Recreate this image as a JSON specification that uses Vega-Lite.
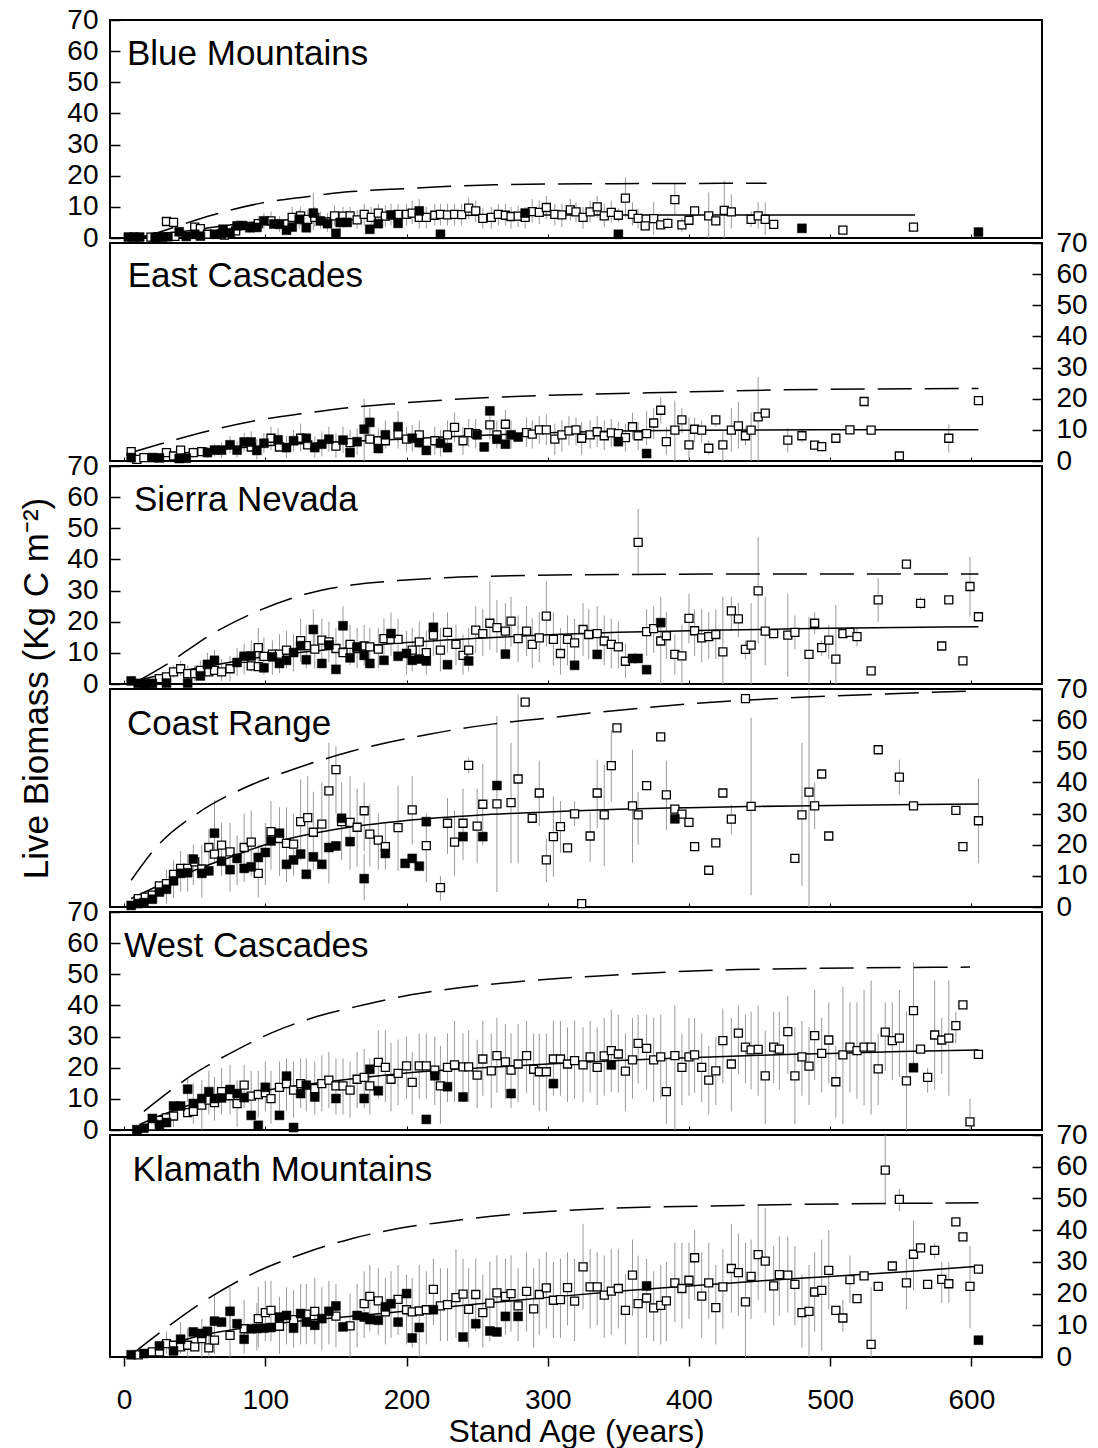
{
"$schema":"https://vega.github.io/schema/vega-lite/v6.json",
"padding":{"left":18,"top":5,"right":5,"bottom":0},
"config":{"font":"Liberation Sans","view":{"stroke":"black","strokeWidth":2},"axis":{"labelColor":"black","titleColor":"black","tickColor":"black","titleFontWeight":"normal","grid":false,"domain":false,"labelFlush":false,"labelOverlap":false}},
"spacing":5,
"bounds":"flush",
"datasets":{
"lab":[{"p":1,"a":2,"b":55.5,"t":"Blue Mountains"},{"p":2,"a":2.5,"b":55.8,"t":"East Cascades"},{"p":3,"a":7,"b":55.5,"t":"Sierra Nevada"},{"p":4,"a":2,"b":55.2,"t":"Coast Range"},{"p":5,"a":0,"b":55.5,"t":"West Cascades"},{"p":6,"a":6,"b":55.6,"t":"Klamath Mountains"}],
"ln":[
{"p":1,"k":"f","a":5,"b":0},{"p":1,"k":"f","a":20,"b":1},{"p":1,"k":"f","a":50,"b":2.6},{"p":1,"k":"f","a":75,"b":4.2},{"p":1,"k":"f","a":100,"b":5.4},{"p":1,"k":"f","a":150,"b":6.6},{"p":1,"k":"f","a":200,"b":7.1},{"p":1,"k":"f","a":250,"b":7.3},{"p":1,"k":"f","a":300,"b":7.4},{"p":1,"k":"f","a":400,"b":7.4},{"p":1,"k":"f","a":560,"b":7.4},
{"p":1,"k":"d","a":12,"b":0},{"p":1,"k":"d","a":29,"b":2.5},{"p":1,"k":"d","a":62,"b":7.3},{"p":1,"k":"d","a":97,"b":11.2},{"p":1,"k":"d","a":128,"b":13.2},{"p":1,"k":"d","a":161,"b":14.9},{"p":1,"k":"d","a":201,"b":15.9},{"p":1,"k":"d","a":227,"b":16.5},{"p":1,"k":"d","a":262,"b":17.1},{"p":1,"k":"d","a":326,"b":17.4},{"p":1,"k":"d","a":400,"b":17.5},{"p":1,"k":"d","a":455,"b":17.6},
{"p":2,"k":"f","a":5,"b":0.8},{"p":2,"k":"f","a":25,"b":1.8},{"p":2,"k":"f","a":50,"b":3},{"p":2,"k":"f","a":100,"b":4.9},{"p":2,"k":"f","a":150,"b":6.1},{"p":2,"k":"f","a":200,"b":7.1},{"p":2,"k":"f","a":250,"b":8.2},{"p":2,"k":"f","a":300,"b":9.1},{"p":2,"k":"f","a":350,"b":9.6},{"p":2,"k":"f","a":400,"b":9.9},{"p":2,"k":"f","a":500,"b":10},{"p":2,"k":"f","a":605,"b":10},
{"p":2,"k":"d","a":5,"b":2.7},{"p":2,"k":"d","a":29,"b":5.9},{"p":2,"k":"d","a":62,"b":9.9},{"p":2,"k":"d","a":95,"b":13.1},{"p":2,"k":"d","a":128,"b":15.3},{"p":2,"k":"d","a":161,"b":17.2},{"p":2,"k":"d","a":194,"b":18.5},{"p":2,"k":"d","a":227,"b":19.6},{"p":2,"k":"d","a":260,"b":20.4},{"p":2,"k":"d","a":326,"b":21.4},{"p":2,"k":"d","a":400,"b":22.2},{"p":2,"k":"d","a":459,"b":22.8},{"p":2,"k":"d","a":605,"b":23.3},
{"p":3,"k":"f","a":10,"b":1.2},{"p":3,"k":"f","a":25,"b":2.8},{"p":3,"k":"f","a":50,"b":5},{"p":3,"k":"f","a":75,"b":7},{"p":3,"k":"f","a":100,"b":8.8},{"p":3,"k":"f","a":150,"b":11.3},{"p":3,"k":"f","a":200,"b":13.3},{"p":3,"k":"f","a":250,"b":14.7},{"p":3,"k":"f","a":300,"b":15.8},{"p":3,"k":"f","a":350,"b":16.6},{"p":3,"k":"f","a":400,"b":17.1},{"p":3,"k":"f","a":450,"b":17.5},{"p":3,"k":"f","a":500,"b":17.9},{"p":3,"k":"f","a":605,"b":18.4},
{"p":3,"k":"d","a":10,"b":1},{"p":3,"k":"d","a":29,"b":6},{"p":3,"k":"d","a":62,"b":16},{"p":3,"k":"d","a":95,"b":23.5},{"p":3,"k":"d","a":128,"b":28.8},{"p":3,"k":"d","a":161,"b":31.8},{"p":3,"k":"d","a":194,"b":33.2},{"p":3,"k":"d","a":227,"b":34.1},{"p":3,"k":"d","a":260,"b":34.6},{"p":3,"k":"d","a":326,"b":35.1},{"p":3,"k":"d","a":450,"b":35.3},{"p":3,"k":"d","a":605,"b":35.3},
{"p":4,"k":"f","a":5,"b":2.7},{"p":4,"k":"f","a":25,"b":7},{"p":4,"k":"f","a":50,"b":11.8},{"p":4,"k":"f","a":75,"b":16},{"p":4,"k":"f","a":100,"b":20},{"p":4,"k":"f","a":125,"b":22.8},{"p":4,"k":"f","a":150,"b":25},{"p":4,"k":"f","a":200,"b":27.8},{"p":4,"k":"f","a":250,"b":29.5},{"p":4,"k":"f","a":300,"b":30.5},{"p":4,"k":"f","a":350,"b":31.4},{"p":4,"k":"f","a":400,"b":31.9},{"p":4,"k":"f","a":450,"b":32.3},{"p":4,"k":"f","a":500,"b":32.6},{"p":4,"k":"f","a":605,"b":33.1},
{"p":4,"k":"d","a":5,"b":8.6},{"p":4,"k":"d","a":22,"b":18.8},{"p":4,"k":"d","a":52,"b":30.1},{"p":4,"k":"d","a":85,"b":38.2},{"p":4,"k":"d","a":121,"b":44.4},{"p":4,"k":"d","a":161,"b":50},{"p":4,"k":"d","a":215,"b":55.4},{"p":4,"k":"d","a":262,"b":58.8},{"p":4,"k":"d","a":294,"b":60.4},{"p":4,"k":"d","a":333,"b":62.4},{"p":4,"k":"d","a":435,"b":66.3},{"p":4,"k":"d","a":483,"b":67.4},{"p":4,"k":"d","a":605,"b":69.4},
{"p":5,"k":"f","a":12,"b":2},{"p":5,"k":"f","a":25,"b":4.5},{"p":5,"k":"f","a":50,"b":8.5},{"p":5,"k":"f","a":75,"b":10.8},{"p":5,"k":"f","a":100,"b":12.7},{"p":5,"k":"f","a":150,"b":15.8},{"p":5,"k":"f","a":200,"b":18.3},{"p":5,"k":"f","a":250,"b":19.9},{"p":5,"k":"f","a":300,"b":21.2},{"p":5,"k":"f","a":350,"b":22.3},{"p":5,"k":"f","a":400,"b":23.2},{"p":5,"k":"f","a":450,"b":24},{"p":5,"k":"f","a":500,"b":24.6},{"p":5,"k":"f","a":550,"b":25.2},{"p":5,"k":"f","a":605,"b":25.7},
{"p":5,"k":"d","a":14,"b":6},{"p":5,"k":"d","a":38,"b":14.4},{"p":5,"k":"d","a":48,"b":17.6},{"p":5,"k":"d","a":73,"b":24.1},{"p":5,"k":"d","a":104,"b":31.1},{"p":5,"k":"d","a":137,"b":36.5},{"p":5,"k":"d","a":170,"b":40.2},{"p":5,"k":"d","a":203,"b":43.4},{"p":5,"k":"d","a":236,"b":45.6},{"p":5,"k":"d","a":269,"b":47.2},{"p":5,"k":"d","a":300,"b":48.4},{"p":5,"k":"d","a":333,"b":49.4},{"p":5,"k":"d","a":435,"b":51.5},{"p":5,"k":"d","a":599,"b":52.3},
{"p":6,"k":"f","a":5,"b":0.7},{"p":6,"k":"f","a":25,"b":3},{"p":6,"k":"f","a":50,"b":6.3},{"p":6,"k":"f","a":100,"b":10.1},{"p":6,"k":"f","a":150,"b":12.4},{"p":6,"k":"f","a":200,"b":14.5},{"p":6,"k":"f","a":250,"b":16.7},{"p":6,"k":"f","a":300,"b":18.8},{"p":6,"k":"f","a":350,"b":20.7},{"p":6,"k":"f","a":400,"b":22.4},{"p":6,"k":"f","a":450,"b":24},{"p":6,"k":"f","a":500,"b":25.4},{"p":6,"k":"f","a":550,"b":26.8},{"p":6,"k":"f","a":605,"b":28.6},
{"p":6,"k":"d","a":6,"b":1},{"p":6,"k":"d","a":29,"b":8.9},{"p":6,"k":"d","a":62,"b":19.1},{"p":6,"k":"d","a":95,"b":27.1},{"p":6,"k":"d","a":128,"b":32.8},{"p":6,"k":"d","a":161,"b":37.3},{"p":6,"k":"d","a":194,"b":40.5},{"p":6,"k":"d","a":227,"b":42.6},{"p":6,"k":"d","a":260,"b":44.4},{"p":6,"k":"d","a":326,"b":46.5},{"p":6,"k":"d","a":435,"b":47.8},{"p":6,"k":"d","a":605,"b":48.6}
],
"pts":[
{"p":1,"a":3,"b":0.3,"f":1},{"p":1,"a":7,"b":0.3,"f":1},{"p":1,"a":11,"b":0.3,"f":1},{"p":1,"a":19,"b":0.3,"f":0},{"p":1,"a":22,"b":0.2,"f":1},{"p":1,"a":24,"b":0.4,"f":0},{"p":1,"a":27,"b":0.3,"f":1},{"p":1,"a":31,"b":0.4,"f":1},{"p":1,"a":30,"b":5.3,"f":0},{"p":1,"a":35,"b":5.0,"f":0},{"p":1,"a":36,"b":0.5,"f":0},{"p":1,"a":39,"b":2.0,"f":1},{"p":1,"a":44,"b":0.5,"f":1},{"p":1,"a":50,"b":3.5,"f":0,"l":2,"h":5},{"p":1,"a":54,"b":3.0,"f":0,"l":1.5,"h":4.5},{"p":1,"a":50,"b":1.2,"f":1},{"p":1,"a":54,"b":0.6,"f":1},{"p":1,"a":59,"b":1.2,"f":0},{"p":1,"a":64,"b":1.2,"f":1},{"p":1,"a":69,"b":1.3,"f":1},{"p":1,"a":70,"b":2.8,"f":1,"l":1,"h":4.5},{"p":1,"a":71,"b":0.9,"f":0},{"p":1,"a":75,"b":1.7,"f":1},{"p":1,"a":79,"b":2.3,"f":0,"l":0.5,"h":4.5},{"p":1,"a":80,"b":3.9,"f":1,"l":2,"h":6},{"p":1,"a":84,"b":4.0,"f":1},{"p":1,"a":89,"b":3.3,"f":1,"l":1.5,"h":5.5},{"p":1,"a":94,"b":3.4,"f":1},{"p":1,"a":95,"b":4.6,"f":0,"l":2.5,"h":7},{"p":1,"a":99,"b":5.5,"f":1,"l":3,"h":8},{"p":1,"a":104,"b":5.5,"f":0,"l":3,"h":8.5},{"p":1,"a":106,"b":4.5,"f":1},{"p":1,"a":110,"b":4.4,"f":1,"l":2,"h":7},{"p":1,"a":115,"b":2.5,"f":1},{"p":1,"a":119,"b":3.5,"f":1},{"p":1,"a":119,"b":6.6,"f":0,"l":3.5,"h":10},{"p":1,"a":124,"b":6.0,"f":1,"l":3,"h":9},{"p":1,"a":125,"b":7.1,"f":0,"l":4,"h":10},{"p":1,"a":129,"b":3.3,"f":1},{"p":1,"a":130,"b":6.0,"f":0,"l":3,"h":9},{"p":1,"a":134,"b":8.0,"f":1,"l":2.5,"h":14.5},{"p":1,"a":135,"b":6.6,"f":0,"l":3.5,"h":10},{"p":1,"a":139,"b":5.5,"f":1,"l":3,"h":8.5},{"p":1,"a":144,"b":4.6,"f":1,"l":2,"h":8},{"p":1,"a":149,"b":7.1,"f":0,"l":4,"h":10.5},{"p":1,"a":150,"b":1.5,"f":1},{"p":1,"a":153,"b":5.0,"f":1,"l":2.5,"h":8},{"p":1,"a":158,"b":5.0,"f":1},{"p":1,"a":155,"b":7.0,"f":0,"l":4,"h":10},{"p":1,"a":160,"b":7.1,"f":0,"l":3.5,"h":10},{"p":1,"a":165,"b":5.8,"f":0,"l":3,"h":9},{"p":1,"a":170,"b":7.6,"f":0,"l":4,"h":11},{"p":1,"a":174,"b":2.8,"f":1},{"p":1,"a":175,"b":6.6,"f":0,"l":3,"h":10},{"p":1,"a":180,"b":4.6,"f":1},{"p":1,"a":180,"b":8.0,"f":0,"l":4.5,"h":11},{"p":1,"a":185,"b":7.0,"f":0,"l":3.5,"h":10.5},{"p":1,"a":189,"b":7.4,"f":1,"l":4,"h":11},{"p":1,"a":194,"b":7.6,"f":0,"l":4,"h":11},{"p":1,"a":194,"b":4.7,"f":1},{"p":1,"a":200,"b":7.6,"f":0,"l":4,"h":11},{"p":1,"a":204,"b":8.0,"f":0,"l":4.5,"h":12},{"p":1,"a":209,"b":8.7,"f":1,"l":5,"h":12.5},{"p":1,"a":209,"b":6.6,"f":0,"l":3,"h":10},{"p":1,"a":214,"b":6.6,"f":0,"l":3,"h":10},{"p":1,"a":220,"b":7.3,"f":0,"l":4,"h":11},{"p":1,"a":224,"b":1.2,"f":1},{"p":1,"a":224,"b":7.6,"f":0,"l":4,"h":11},{"p":1,"a":229,"b":7.4,"f":0,"l":4,"h":11},{"p":1,"a":234,"b":7.6,"f":0,"l":4,"h":11},{"p":1,"a":239,"b":7.5,"f":0,"l":4,"h":11},{"p":1,"a":244,"b":9.6,"f":0,"l":6,"h":13},{"p":1,"a":249,"b":8.7,"f":0,"l":5,"h":12},{"p":1,"a":254,"b":6.3,"f":0,"l":3,"h":9.5},{"p":1,"a":260,"b":6.6,"f":0,"l":3,"h":10},{"p":1,"a":265,"b":7.6,"f":0,"l":4,"h":11},{"p":1,"a":270,"b":7.3,"f":0,"l":4,"h":11},{"p":1,"a":274,"b":6.9,"f":0,"l":3,"h":10},{"p":1,"a":279,"b":7.0,"f":0,"l":3.5,"h":10.5},{"p":1,"a":284,"b":8.0,"f":1},{"p":1,"a":284,"b":6.6,"f":0,"l":3,"h":10},{"p":1,"a":289,"b":8.5,"f":0,"l":5,"h":12.5},{"p":1,"a":294,"b":8.2,"f":0,"l":4.5,"h":12},{"p":1,"a":299,"b":9.8,"f":0,"l":6,"h":13.5},{"p":1,"a":305,"b":7.6,"f":0,"l":4,"h":11},{"p":1,"a":310,"b":7.4,"f":0,"l":3.5,"h":11},{"p":1,"a":316,"b":9.0,"f":0,"l":5.5,"h":12.5},{"p":1,"a":320,"b":8.4,"f":0,"l":5,"h":11.5},{"p":1,"a":325,"b":6.6,"f":0,"l":3,"h":10},{"p":1,"a":330,"b":8.4,"f":0,"l":5,"h":12},{"p":1,"a":335,"b":10.0,"f":0,"l":6.5,"h":13.5},{"p":1,"a":340,"b":7.1,"f":0,"l":3.5,"h":11},{"p":1,"a":345,"b":8.2,"f":0,"l":5,"h":12},{"p":1,"a":350,"b":7.3,"f":0,"l":5,"h":9.5},{"p":1,"a":350,"b":1.2,"f":1},{"p":1,"a":355,"b":12.8,"f":0,"l":6.6,"h":19.5},{"p":1,"a":360,"b":7.6,"f":0,"l":4,"h":11.5},{"p":1,"a":364,"b":6.3,"f":0,"l":3,"h":9.5},{"p":1,"a":369,"b":3.9,"f":0},{"p":1,"a":375,"b":6.2,"f":0,"l":1,"h":11.5},{"p":1,"a":380,"b":4.2,"f":0},{"p":1,"a":385,"b":4.7,"f":0,"l":3,"h":6.5},{"p":1,"a":390,"b":12.3,"f":0,"l":7.6,"h":17.3},{"p":1,"a":395,"b":4.2,"f":0,"l":2,"h":6.5},{"p":1,"a":400,"b":5.7,"f":0},{"p":1,"a":404,"b":8.7,"f":0},{"p":1,"a":414,"b":7.1,"f":0,"l":0,"h":14.6},{"p":1,"a":419,"b":5.5,"f":0,"l":4,"h":7},{"p":1,"a":425,"b":8.9,"f":0,"l":0,"h":18.4},{"p":1,"a":430,"b":8.4,"f":0,"l":3,"h":14},{"p":1,"a":444,"b":6.0,"f":0,"l":3.5,"h":8.5},{"p":1,"a":449,"b":7.1,"f":0,"l":3,"h":11.5},{"p":1,"a":454,"b":6.0,"f":0,"l":1,"h":11.5},{"p":1,"a":460,"b":4.4,"f":0},{"p":1,"a":480,"b":3.1,"f":1},{"p":1,"a":509,"b":2.5,"f":0},{"p":1,"a":559,"b":3.5,"f":0},{"p":1,"a":605,"b":1.9,"f":1},
{"p":2,"a":5,"b":3.0,"f":0},{"p":2,"a":5,"b":1.1,"f":1},{"p":2,"a":9,"b":0.5,"f":0},{"p":2,"a":14,"b":1.1,"f":0},{"p":2,"a":20,"b":1.1,"f":1},{"p":2,"a":25,"b":1.0,"f":1},{"p":2,"a":30,"b":2.7,"f":0},{"p":2,"a":35,"b":1.6,"f":0},{"p":2,"a":40,"b":3.5,"f":0},{"p":2,"a":39,"b":0.8,"f":1},{"p":2,"a":44,"b":0.9,"f":1},{"p":2,"a":49,"b":2.7,"f":0,"l":1,"h":4.5},{"p":2,"a":55,"b":3.0,"f":0},{"p":2,"a":59,"b":2.7,"f":1,"l":1,"h":4.5},{"p":2,"a":64,"b":3.5,"f":1,"l":1.5,"h":5.5},{"p":2,"a":69,"b":3.5,"f":1,"l":1,"h":6},{"p":2,"a":75,"b":5.2,"f":1,"l":2.5,"h":8},{"p":2,"a":80,"b":3.5,"f":1,"l":1,"h":6.5},{"p":2,"a":85,"b":6.1,"f":1,"l":3,"h":9},{"p":2,"a":90,"b":6.1,"f":1,"l":3,"h":9.5},{"p":2,"a":90,"b":4.5,"f":0},{"p":2,"a":94,"b":3.4,"f":1,"l":0.5,"h":7},{"p":2,"a":99,"b":5.7,"f":1,"l":2.5,"h":9},{"p":2,"a":104,"b":7.3,"f":0,"l":3.5,"h":11},{"p":2,"a":109,"b":6.8,"f":1,"l":3,"h":10.5},{"p":2,"a":110,"b":4.5,"f":0},{"p":2,"a":115,"b":4.3,"f":1,"l":1,"h":8},{"p":2,"a":120,"b":6.5,"f":1,"l":3,"h":10},{"p":2,"a":125,"b":7.3,"f":0,"l":3,"h":12},{"p":2,"a":130,"b":5.2,"f":0},{"p":2,"a":129,"b":7.3,"f":1},{"p":2,"a":135,"b":4.3,"f":1,"l":1,"h":8},{"p":2,"a":140,"b":5.4,"f":1,"l":1.5,"h":9.5},{"p":2,"a":145,"b":7.0,"f":1,"l":3,"h":11},{"p":2,"a":150,"b":4.8,"f":0,"l":1,"h":9},{"p":2,"a":155,"b":6.7,"f":1,"l":2.5,"h":11},{"p":2,"a":160,"b":2.7,"f":1},{"p":2,"a":160,"b":5.9,"f":0,"l":1.5,"h":10},{"p":2,"a":165,"b":6.2,"f":1,"l":2,"h":10.5},{"p":2,"a":170,"b":10.2,"f":1,"l":0,"h":20},{"p":2,"a":174,"b":12.4,"f":1,"l":7,"h":17},{"p":2,"a":174,"b":7.0,"f":0},{"p":2,"a":180,"b":6.5,"f":0,"l":2.5,"h":10.5},{"p":2,"a":180,"b":4.0,"f":1},{"p":2,"a":185,"b":8.4,"f":1,"l":4,"h":13},{"p":2,"a":185,"b":6.5,"f":0},{"p":2,"a":194,"b":11.0,"f":1,"l":6,"h":16},{"p":2,"a":194,"b":8.6,"f":0,"l":4,"h":13},{"p":2,"a":200,"b":7.0,"f":0,"l":3,"h":11},{"p":2,"a":204,"b":7.3,"f":1,"l":3,"h":11.5},{"p":2,"a":209,"b":8.4,"f":0,"l":4,"h":13},{"p":2,"a":209,"b":5.9,"f":1},{"p":2,"a":214,"b":3.4,"f":1},{"p":2,"a":220,"b":6.5,"f":0,"l":2,"h":11},{"p":2,"a":224,"b":5.7,"f":1,"l":1.5,"h":10},{"p":2,"a":229,"b":4.3,"f":1},{"p":2,"a":229,"b":8.4,"f":0,"l":4,"h":13},{"p":2,"a":234,"b":10.8,"f":0,"l":6,"h":15.5},{"p":2,"a":240,"b":6.5,"f":0,"l":2,"h":11},{"p":2,"a":244,"b":9.1,"f":0,"l":4.5,"h":13.5},{"p":2,"a":249,"b":8.8,"f":0,"l":4,"h":13.5},{"p":2,"a":250,"b":8.4,"f":1},{"p":2,"a":255,"b":4.5,"f":1},{"p":2,"a":259,"b":11.6,"f":0,"l":7,"h":16},{"p":2,"a":259,"b":16.1,"f":1},{"p":2,"a":264,"b":7.0,"f":1},{"p":2,"a":264,"b":8.4,"f":0,"l":4,"h":13},{"p":2,"a":270,"b":11.8,"f":0,"l":7,"h":16.5},{"p":2,"a":270,"b":5.4,"f":1},{"p":2,"a":274,"b":8.4,"f":1,"l":4,"h":13},{"p":2,"a":279,"b":7.7,"f":1},{"p":2,"a":285,"b":9.1,"f":0,"l":4.5,"h":14},{"p":2,"a":289,"b":8.6,"f":0,"l":4,"h":13},{"p":2,"a":294,"b":10.0,"f":0,"l":5.5,"h":14.5},{"p":2,"a":299,"b":10.0,"f":0,"l":5,"h":15},{"p":2,"a":305,"b":7.0,"f":0,"l":2,"h":12},{"p":2,"a":310,"b":8.4,"f":0,"l":3,"h":13},{"p":2,"a":315,"b":9.7,"f":0,"l":5,"h":14.5},{"p":2,"a":320,"b":10.0,"f":0,"l":5,"h":14},{"p":2,"a":324,"b":7.3,"f":0,"l":2,"h":12.5},{"p":2,"a":330,"b":8.4,"f":0,"l":4,"h":13},{"p":2,"a":335,"b":9.4,"f":0,"l":4.5,"h":14.5},{"p":2,"a":340,"b":8.1,"f":0,"l":3.5,"h":13},{"p":2,"a":345,"b":9.0,"f":0,"l":4.5,"h":13.5},{"p":2,"a":350,"b":8.8,"f":0,"l":5,"h":12.5},{"p":2,"a":350,"b":6.2,"f":1},{"p":2,"a":355,"b":7.5,"f":0,"l":3,"h":12},{"p":2,"a":360,"b":11.0,"f":0,"l":7,"h":15.5},{"p":2,"a":364,"b":8.1,"f":0,"l":3.5,"h":12.5},{"p":2,"a":370,"b":2.4,"f":1},{"p":2,"a":370,"b":8.8,"f":0,"l":5,"h":16},{"p":2,"a":375,"b":12.2,"f":0,"l":7,"h":17},{"p":2,"a":380,"b":16.3,"f":0,"l":12,"h":20.5},{"p":2,"a":384,"b":6.2,"f":0,"l":2,"h":11},{"p":2,"a":390,"b":9.9,"f":0,"l":0,"h":19.4},{"p":2,"a":395,"b":13.2,"f":0,"l":9,"h":17},{"p":2,"a":400,"b":5.2,"f":0,"l":0,"h":14},{"p":2,"a":404,"b":10.2,"f":0,"l":6,"h":14},{"p":2,"a":409,"b":9.9,"f":0,"l":6,"h":13},{"p":2,"a":414,"b":4.1,"f":0,"l":2,"h":6.5},{"p":2,"a":419,"b":13.2,"f":0,"l":11,"h":15},{"p":2,"a":424,"b":5.2,"f":0,"l":0,"h":9.5},{"p":2,"a":430,"b":9.9,"f":0,"l":3,"h":17},{"p":2,"a":435,"b":11.3,"f":0,"l":4,"h":19},{"p":2,"a":440,"b":8.1,"f":0,"l":5,"h":11},{"p":2,"a":444,"b":9.9,"f":0,"l":0,"h":15.6},{"p":2,"a":449,"b":14.2,"f":0,"l":0,"h":26.9},{"p":2,"a":454,"b":15.4,"f":0},{"p":2,"a":470,"b":6.7,"f":0,"l":2.7,"h":10.5},{"p":2,"a":480,"b":8.1,"f":0,"l":6,"h":10},{"p":2,"a":489,"b":5.1,"f":0},{"p":2,"a":494,"b":4.6,"f":0},{"p":2,"a":504,"b":7.3,"f":0},{"p":2,"a":514,"b":10.0,"f":0},{"p":2,"a":524,"b":19.1,"f":0},{"p":2,"a":529,"b":9.9,"f":0},{"p":2,"a":549,"b":1.6,"f":0},{"p":2,"a":584,"b":7.3,"f":0,"l":2.7,"h":11.8},{"p":2,"a":605,"b":19.4,"f":0},
{"p":3,"a":5,"b":1.0,"f":1},{"p":3,"a":10,"b":0.2,"f":1},{"p":3,"a":15,"b":0.1,"f":1},{"p":3,"a":20,"b":0.2,"f":1},{"p":3,"a":25,"b":1.7,"f":0},{"p":3,"a":30,"b":2.3,"f":0},{"p":3,"a":30,"b":0.3,"f":1},{"p":3,"a":35,"b":3.9,"f":0,"l":2,"h":6},{"p":3,"a":40,"b":4.9,"f":0,"l":2.5,"h":7.5},{"p":3,"a":45,"b":3.3,"f":0,"l":1,"h":6},{"p":3,"a":45,"b":0.3,"f":1},{"p":3,"a":50,"b":3.3,"f":0,"l":1,"h":6},{"p":3,"a":54,"b":4.4,"f":0,"l":1.5,"h":7.5},{"p":3,"a":54,"b":2.6,"f":1},{"p":3,"a":59,"b":6.3,"f":1,"l":3,"h":10},{"p":3,"a":64,"b":7.6,"f":1,"l":4,"h":11},{"p":3,"a":60,"b":3.9,"f":0},{"p":3,"a":64,"b":4.4,"f":0},{"p":3,"a":69,"b":3.9,"f":0,"l":1,"h":8},{"p":3,"a":75,"b":4.9,"f":0,"l":1,"h":9},{"p":3,"a":80,"b":6.9,"f":1,"l":2.5,"h":11.5},{"p":3,"a":85,"b":8.2,"f":0,"l":3,"h":13},{"p":3,"a":85,"b":8.9,"f":1},{"p":3,"a":90,"b":9.0,"f":1,"l":4,"h":14},{"p":3,"a":90,"b":5.8,"f":0},{"p":3,"a":95,"b":11.7,"f":0,"l":6,"h":18},{"p":3,"a":95,"b":5.6,"f":0},{"p":3,"a":99,"b":5.2,"f":1},{"p":3,"a":99,"b":8.9,"f":0,"l":3,"h":15},{"p":3,"a":105,"b":8.7,"f":1,"l":3,"h":14},{"p":3,"a":105,"b":9.6,"f":0},{"p":3,"a":110,"b":6.6,"f":1},{"p":3,"a":110,"b":9.6,"f":0,"l":3.5,"h":16},{"p":3,"a":115,"b":7.6,"f":1},{"p":3,"a":115,"b":10.9,"f":0,"l":5,"h":17},{"p":3,"a":120,"b":10.1,"f":1,"l":4,"h":16},{"p":3,"a":125,"b":13.9,"f":0,"l":7,"h":21},{"p":3,"a":125,"b":12.3,"f":1},{"p":3,"a":129,"b":7.8,"f":1},{"p":3,"a":129,"b":12.3,"f":0,"l":5,"h":19},{"p":3,"a":134,"b":17.5,"f":1,"l":11,"h":24},{"p":3,"a":135,"b":11.2,"f":0,"l":5,"h":18},{"p":3,"a":140,"b":14.1,"f":0,"l":7,"h":21},{"p":3,"a":145,"b":13.5,"f":0,"l":7,"h":20},{"p":3,"a":140,"b":6.6,"f":1},{"p":3,"a":145,"b":12.5,"f":1},{"p":3,"a":150,"b":4.7,"f":1},{"p":3,"a":150,"b":11.4,"f":0,"l":5,"h":18},{"p":3,"a":155,"b":18.7,"f":1,"l":12,"h":25},{"p":3,"a":155,"b":10.1,"f":0},{"p":3,"a":160,"b":12.7,"f":0,"l":6,"h":19},{"p":3,"a":160,"b":8.4,"f":1},{"p":3,"a":165,"b":11.4,"f":0,"l":5,"h":18},{"p":3,"a":165,"b":11.9,"f":1},{"p":3,"a":170,"b":9.2,"f":1},{"p":3,"a":170,"b":12.2,"f":0,"l":6,"h":19},{"p":3,"a":174,"b":6.6,"f":1},{"p":3,"a":174,"b":11.9,"f":0,"l":5,"h":18},{"p":3,"a":180,"b":11.2,"f":0,"l":5,"h":18},{"p":3,"a":184,"b":14.6,"f":0,"l":8,"h":21},{"p":3,"a":184,"b":7.6,"f":1},{"p":3,"a":189,"b":16.2,"f":1,"l":9,"h":23},{"p":3,"a":189,"b":14.3,"f":0},{"p":3,"a":194,"b":14.3,"f":0,"l":8,"h":21},{"p":3,"a":194,"b":8.9,"f":1},{"p":3,"a":200,"b":9.8,"f":1,"l":3,"h":17},{"p":3,"a":204,"b":10.9,"f":0,"l":4,"h":18},{"p":3,"a":204,"b":7.6,"f":1},{"p":3,"a":209,"b":13.5,"f":0,"l":7,"h":20},{"p":3,"a":209,"b":8.0,"f":1},{"p":3,"a":214,"b":10.1,"f":0,"l":3,"h":17},{"p":3,"a":214,"b":7.4,"f":1},{"p":3,"a":219,"b":18.2,"f":1},{"p":3,"a":219,"b":15.7,"f":0,"l":9,"h":23},{"p":3,"a":224,"b":10.9,"f":0,"l":4,"h":18},{"p":3,"a":229,"b":16.6,"f":0,"l":10,"h":23},{"p":3,"a":229,"b":6.2,"f":1},{"p":3,"a":235,"b":12.7,"f":0,"l":6,"h":19},{"p":3,"a":240,"b":9.2,"f":0,"l":3,"h":16},{"p":3,"a":244,"b":10.9,"f":0,"l":4,"h":18},{"p":3,"a":244,"b":7.4,"f":1},{"p":3,"a":249,"b":17.3,"f":0,"l":10,"h":25},{"p":3,"a":254,"b":16.2,"f":0,"l":9,"h":24},{"p":3,"a":259,"b":19.5,"f":0,"l":11,"h":33},{"p":3,"a":264,"b":18.1,"f":0,"l":10,"h":27},{"p":3,"a":270,"b":17.0,"f":0,"l":9,"h":26},{"p":3,"a":270,"b":9.6,"f":1},{"p":3,"a":274,"b":20.2,"f":0,"l":12,"h":28},{"p":3,"a":279,"b":14.6,"f":0,"l":7,"h":22},{"p":3,"a":285,"b":17.0,"f":0,"l":9,"h":25},{"p":3,"a":289,"b":12.7,"f":0,"l":5,"h":21},{"p":3,"a":294,"b":14.8,"f":0,"l":7,"h":23},{"p":3,"a":299,"b":21.8,"f":0,"l":12,"h":33},{"p":3,"a":304,"b":14.3,"f":0,"l":6,"h":23},{"p":3,"a":309,"b":9.8,"f":0,"l":3,"h":18},{"p":3,"a":314,"b":14.3,"f":0,"l":6,"h":22},{"p":3,"a":319,"b":6.0,"f":1},{"p":3,"a":319,"b":13.2,"f":0,"l":5,"h":21},{"p":3,"a":325,"b":17.5,"f":0,"l":9,"h":26},{"p":3,"a":329,"b":15.9,"f":0,"l":8,"h":24},{"p":3,"a":335,"b":16.2,"f":0,"l":8,"h":25},{"p":3,"a":335,"b":9.5,"f":1},{"p":3,"a":340,"b":13.8,"f":0,"l":6,"h":22},{"p":3,"a":345,"b":12.7,"f":0,"l":5,"h":21},{"p":3,"a":350,"b":11.9,"f":0,"l":5,"h":20},{"p":3,"a":355,"b":7.3,"f":0,"l":2,"h":13},{"p":3,"a":360,"b":8.2,"f":1},{"p":3,"a":364,"b":8.2,"f":1},{"p":3,"a":364,"b":45.5,"f":0,"l":34.7,"h":56.2},{"p":3,"a":370,"b":4.6,"f":1},{"p":3,"a":370,"b":16.8,"f":0,"l":9,"h":24},{"p":3,"a":375,"b":17.8,"f":0,"l":10,"h":25},{"p":3,"a":380,"b":19.7,"f":1},{"p":3,"a":380,"b":13.8,"f":0,"l":0,"h":28},{"p":3,"a":384,"b":15.5,"f":0,"l":8,"h":23},{"p":3,"a":390,"b":9.5,"f":0,"l":3,"h":16},{"p":3,"a":395,"b":9.0,"f":0,"l":0,"h":19},{"p":3,"a":400,"b":21.1,"f":0,"l":13,"h":29},{"p":3,"a":404,"b":17.1,"f":0,"l":9,"h":24},{"p":3,"a":409,"b":14.8,"f":0,"l":7,"h":24},{"p":3,"a":414,"b":15.2,"f":0,"l":8,"h":23},{"p":3,"a":419,"b":15.9,"f":0,"l":8,"h":24},{"p":3,"a":424,"b":10.3,"f":0,"l":0,"h":28},{"p":3,"a":430,"b":23.5,"f":0,"l":17,"h":28},{"p":3,"a":435,"b":20.9,"f":0,"l":15,"h":26},{"p":3,"a":440,"b":11.1,"f":0,"l":8,"h":14},{"p":3,"a":444,"b":12.5,"f":0,"l":0,"h":26},{"p":3,"a":449,"b":29.9,"f":0,"l":13,"h":47.2},{"p":3,"a":454,"b":17.0,"f":0,"l":6,"h":28},{"p":3,"a":460,"b":16.2,"f":0},{"p":3,"a":470,"b":15.7,"f":0,"l":2.3,"h":29},{"p":3,"a":475,"b":16.6,"f":0,"l":11,"h":22},{"p":3,"a":485,"b":9.5,"f":0,"l":0,"h":21.6},{"p":3,"a":489,"b":19.5,"f":0,"l":16,"h":23},{"p":3,"a":494,"b":11.7,"f":0,"l":9,"h":14},{"p":3,"a":499,"b":14.1,"f":0,"l":8,"h":19},{"p":3,"a":504,"b":8.0,"f":0,"l":0,"h":25.4},{"p":3,"a":509,"b":16.2,"f":0},{"p":3,"a":514,"b":16.6,"f":0},{"p":3,"a":519,"b":15.2,"f":0,"l":12,"h":18},{"p":3,"a":529,"b":4.2,"f":0},{"p":3,"a":534,"b":27.0,"f":0,"l":20,"h":34},{"p":3,"a":554,"b":38.5,"f":0},{"p":3,"a":564,"b":25.9,"f":0,"l":24,"h":28},{"p":3,"a":579,"b":12.2,"f":0},{"p":3,"a":584,"b":27.0,"f":0},{"p":3,"a":594,"b":7.4,"f":0},{"p":3,"a":599,"b":31.3,"f":0,"l":21.6,"h":40.8},{"p":3,"a":605,"b":21.6,"f":0},
{"p":4,"a":5,"b":0.5,"f":1},{"p":4,"a":10,"b":1.1,"f":1},{"p":4,"a":10,"b":2.7,"f":0},{"p":4,"a":14,"b":1.4,"f":1},{"p":4,"a":15,"b":3.2,"f":0},{"p":4,"a":20,"b":2.5,"f":1},{"p":4,"a":20,"b":3.8,"f":0},{"p":4,"a":25,"b":4.8,"f":1},{"p":4,"a":25,"b":6.8,"f":0},{"p":4,"a":30,"b":5.7,"f":1},{"p":4,"a":30,"b":7.5,"f":0,"l":1,"h":12},{"p":4,"a":35,"b":8.4,"f":1},{"p":4,"a":35,"b":10.5,"f":0,"l":3,"h":15},{"p":4,"a":40,"b":12.4,"f":0,"l":5,"h":18},{"p":4,"a":40,"b":10.8,"f":1},{"p":4,"a":45,"b":11.0,"f":1},{"p":4,"a":45,"b":12.4,"f":0,"l":5,"h":17},{"p":4,"a":49,"b":15.4,"f":1,"l":7,"h":20},{"p":4,"a":50,"b":14.5,"f":0},{"p":4,"a":55,"b":10.8,"f":1},{"p":4,"a":55,"b":12.2,"f":0,"l":3,"h":20},{"p":4,"a":60,"b":11.6,"f":1},{"p":4,"a":60,"b":19.1,"f":0,"l":10,"h":25},{"p":4,"a":64,"b":23.7,"f":1,"l":14,"h":34.4},{"p":4,"a":64,"b":17.0,"f":0},{"p":4,"a":69,"b":19.9,"f":0,"l":10,"h":27},{"p":4,"a":69,"b":14.7,"f":1},{"p":4,"a":75,"b":17.7,"f":0,"l":5,"h":27},{"p":4,"a":75,"b":12.0,"f":1},{"p":4,"a":80,"b":15.6,"f":1,"l":7,"h":23},{"p":4,"a":85,"b":19.1,"f":0,"l":8,"h":30},{"p":4,"a":85,"b":12.4,"f":1},{"p":4,"a":90,"b":12.9,"f":1},{"p":4,"a":90,"b":20.8,"f":0,"l":10,"h":31},{"p":4,"a":95,"b":10.8,"f":0,"l":3,"h":20},{"p":4,"a":95,"b":15.9,"f":1},{"p":4,"a":100,"b":17.5,"f":1,"l":7,"h":27},{"p":4,"a":104,"b":24.2,"f":0,"l":12,"h":34},{"p":4,"a":104,"b":21.2,"f":1},{"p":4,"a":110,"b":22.0,"f":0,"l":10,"h":32},{"p":4,"a":110,"b":23.7,"f":1},{"p":4,"a":115,"b":13.7,"f":1},{"p":4,"a":115,"b":20.4,"f":0,"l":8,"h":32},{"p":4,"a":120,"b":20.2,"f":0,"l":10,"h":30},{"p":4,"a":120,"b":15.1,"f":1},{"p":4,"a":125,"b":27.4,"f":0,"l":15,"h":41},{"p":4,"a":125,"b":17.0,"f":1},{"p":4,"a":130,"b":28.7,"f":0,"l":12,"h":42},{"p":4,"a":129,"b":10.5,"f":1},{"p":4,"a":134,"b":24.0,"f":0,"l":12,"h":37},{"p":4,"a":134,"b":16.1,"f":1},{"p":4,"a":140,"b":26.6,"f":0,"l":15,"h":40},{"p":4,"a":140,"b":13.7,"f":1},{"p":4,"a":145,"b":37.3,"f":0,"l":7.5,"h":52.7},{"p":4,"a":145,"b":19.1,"f":1},{"p":4,"a":150,"b":44.1,"f":0,"l":30.1,"h":51.6},{"p":4,"a":150,"b":19.6,"f":1},{"p":4,"a":154,"b":28.5,"f":1},{"p":4,"a":154,"b":27.4,"f":0,"l":15,"h":40},{"p":4,"a":160,"b":21.0,"f":1},{"p":4,"a":160,"b":27.2,"f":0,"l":12,"h":42},{"p":4,"a":165,"b":25.6,"f":0,"l":13,"h":38},{"p":4,"a":170,"b":9.1,"f":1,"l":2,"h":17},{"p":4,"a":170,"b":30.9,"f":0,"l":18,"h":40},{"p":4,"a":174,"b":23.4,"f":0,"l":13,"h":33},{"p":4,"a":180,"b":21.5,"f":0,"l":12,"h":30},{"p":4,"a":185,"b":19.4,"f":0,"l":12,"h":27},{"p":4,"a":185,"b":17.2,"f":1},{"p":4,"a":194,"b":25.5,"f":0,"l":11.6,"h":39},{"p":4,"a":199,"b":14.0,"f":1},{"p":4,"a":204,"b":15.6,"f":1},{"p":4,"a":209,"b":13.1,"f":1},{"p":4,"a":204,"b":31.2,"f":0,"l":20,"h":42},{"p":4,"a":214,"b":27.4,"f":1},{"p":4,"a":214,"b":19.7,"f":0,"l":8,"h":30},{"p":4,"a":224,"b":6.2,"f":0,"l":2,"h":10},{"p":4,"a":229,"b":26.9,"f":0,"l":17,"h":35},{"p":4,"a":234,"b":20.8,"f":0,"l":10,"h":31},{"p":4,"a":240,"b":22.6,"f":1},{"p":4,"a":240,"b":26.9,"f":0,"l":15,"h":38},{"p":4,"a":244,"b":45.5,"f":0,"l":43,"h":48},{"p":4,"a":250,"b":26.0,"f":0,"l":14,"h":38},{"p":4,"a":254,"b":22.6,"f":1},{"p":4,"a":254,"b":33.0,"f":0,"l":20,"h":46},{"p":4,"a":264,"b":39.0,"f":1},{"p":4,"a":264,"b":33.1,"f":0,"l":4.8,"h":61.3},{"p":4,"a":274,"b":33.5,"f":0,"l":14,"h":52.7},{"p":4,"a":279,"b":41.1,"f":0,"l":14,"h":68.3},{"p":4,"a":284,"b":65.8,"f":0},{"p":4,"a":289,"b":28.5,"f":0},{"p":4,"a":294,"b":36.6,"f":0,"l":26,"h":47},{"p":4,"a":299,"b":15.1,"f":0,"l":8,"h":22},{"p":4,"a":304,"b":22.6,"f":0,"l":9.7,"h":35.5},{"p":4,"a":309,"b":25.8,"f":0,"l":17.4,"h":34},{"p":4,"a":314,"b":19.0,"f":0},{"p":4,"a":319,"b":29.9,"f":0,"l":26,"h":34},{"p":4,"a":324,"b":1.1,"f":0},{"p":4,"a":330,"b":22.8,"f":0,"l":14.5,"h":30.6},{"p":4,"a":335,"b":36.6,"f":0,"l":25.3,"h":47.3},{"p":4,"a":340,"b":29.6,"f":0,"l":13.1,"h":45.7},{"p":4,"a":345,"b":45.4,"f":0,"l":33.9,"h":56.7},{"p":4,"a":349,"b":57.5,"f":0},{"p":4,"a":360,"b":32.5,"f":0,"l":14.2,"h":50.5},{"p":4,"a":364,"b":29.6,"f":0,"l":20,"h":37},{"p":4,"a":370,"b":39.0,"f":0},{"p":4,"a":380,"b":54.6,"f":0},{"p":4,"a":384,"b":36.0,"f":0,"l":24.7,"h":47},{"p":4,"a":390,"b":31.4,"f":0},{"p":4,"a":390,"b":28.3,"f":1},{"p":4,"a":395,"b":29.8,"f":0},{"p":4,"a":400,"b":27.2,"f":0},{"p":4,"a":404,"b":19.4,"f":0},{"p":4,"a":414,"b":11.8,"f":0},{"p":4,"a":419,"b":20.6,"f":0},{"p":4,"a":424,"b":36.6,"f":0},{"p":4,"a":430,"b":28.2,"f":0,"l":23.3,"h":32.8},{"p":4,"a":440,"b":66.9,"f":0},{"p":4,"a":444,"b":32.3,"f":0,"l":3.8,"h":60.8},{"p":4,"a":475,"b":15.6,"f":0},{"p":4,"a":480,"b":29.6,"f":0,"l":6.8,"h":52.7},{"p":4,"a":485,"b":36.9,"f":0,"l":0,"h":70},{"p":4,"a":489,"b":32.5,"f":0,"l":25,"h":40},{"p":4,"a":494,"b":42.7,"f":0},{"p":4,"a":499,"b":22.8,"f":0},{"p":4,"a":534,"b":50.5,"f":0},{"p":4,"a":549,"b":41.7,"f":0,"l":36,"h":47.3},{"p":4,"a":559,"b":32.5,"f":0},{"p":4,"a":589,"b":31.0,"f":0},{"p":4,"a":594,"b":19.4,"f":0},{"p":4,"a":605,"b":27.7,"f":0,"l":14,"h":41.2},
{"p":5,"a":9,"b":0.1,"f":1},{"p":5,"a":14,"b":0.6,"f":1},{"p":5,"a":20,"b":3.7,"f":1},{"p":5,"a":20,"b":1.3,"f":0},{"p":5,"a":25,"b":1.7,"f":1},{"p":5,"a":25,"b":3.1,"f":0},{"p":5,"a":30,"b":3.9,"f":0},{"p":5,"a":30,"b":2.4,"f":1},{"p":5,"a":35,"b":4.5,"f":0,"l":1,"h":8},{"p":5,"a":35,"b":7.7,"f":1},{"p":5,"a":40,"b":7.7,"f":1},{"p":5,"a":45,"b":13.1,"f":1,"l":9,"h":17},{"p":5,"a":45,"b":5.6,"f":0},{"p":5,"a":49,"b":8.5,"f":1,"l":2,"h":15},{"p":5,"a":49,"b":6.0,"f":0},{"p":5,"a":55,"b":8.0,"f":0,"l":0,"h":16},{"p":5,"a":55,"b":10.1,"f":1},{"p":5,"a":60,"b":12.3,"f":1,"l":5,"h":19},{"p":5,"a":60,"b":9.6,"f":0},{"p":5,"a":64,"b":10.1,"f":1,"l":3,"h":17},{"p":5,"a":64,"b":8.8,"f":0},{"p":5,"a":69,"b":10.3,"f":1},{"p":5,"a":69,"b":12.3,"f":0,"l":5,"h":20},{"p":5,"a":75,"b":13.0,"f":1,"l":5,"h":21},{"p":5,"a":75,"b":11.0,"f":0},{"p":5,"a":80,"b":11.7,"f":1},{"p":5,"a":80,"b":8.5,"f":0,"l":1,"h":16},{"p":5,"a":85,"b":14.4,"f":0,"l":7,"h":21},{"p":5,"a":85,"b":10.4,"f":1},{"p":5,"a":90,"b":4.7,"f":1},{"p":5,"a":90,"b":10.9,"f":0,"l":3,"h":19},{"p":5,"a":95,"b":1.5,"f":1},{"p":5,"a":95,"b":11.4,"f":0,"l":4,"h":19},{"p":5,"a":100,"b":13.7,"f":1,"l":6,"h":22},{"p":5,"a":100,"b":12.0,"f":0},{"p":5,"a":104,"b":10.1,"f":0,"l":2,"h":19},{"p":5,"a":110,"b":13.7,"f":0,"l":5,"h":22},{"p":5,"a":110,"b":4.7,"f":1},{"p":5,"a":115,"b":17.3,"f":1},{"p":5,"a":115,"b":14.9,"f":0,"l":6,"h":23},{"p":5,"a":120,"b":0.8,"f":1},{"p":5,"a":120,"b":12.8,"f":0,"l":4,"h":22},{"p":5,"a":125,"b":11.7,"f":1},{"p":5,"a":125,"b":14.9,"f":0,"l":7,"h":23},{"p":5,"a":129,"b":14.4,"f":1,"l":6,"h":23},{"p":5,"a":135,"b":13.3,"f":0,"l":5,"h":22},{"p":5,"a":135,"b":10.6,"f":1},{"p":5,"a":140,"b":14.9,"f":0,"l":6,"h":24},{"p":5,"a":145,"b":16.0,"f":0,"l":7,"h":25},{"p":5,"a":150,"b":10.1,"f":1},{"p":5,"a":150,"b":14.2,"f":0,"l":5,"h":23},{"p":5,"a":155,"b":14.2,"f":0,"l":5,"h":23},{"p":5,"a":160,"b":12.8,"f":0,"l":4,"h":22},{"p":5,"a":165,"b":16.3,"f":0,"l":7,"h":25},{"p":5,"a":170,"b":10.1,"f":1},{"p":5,"a":170,"b":16.9,"f":0,"l":7,"h":26},{"p":5,"a":174,"b":19.5,"f":1},{"p":5,"a":174,"b":14.2,"f":0,"l":5,"h":23},{"p":5,"a":180,"b":21.7,"f":0,"l":10,"h":32},{"p":5,"a":180,"b":12.6,"f":1},{"p":5,"a":185,"b":20.1,"f":0,"l":9,"h":32},{"p":5,"a":189,"b":16.3,"f":0,"l":6,"h":28},{"p":5,"a":194,"b":18.2,"f":0,"l":8,"h":29},{"p":5,"a":200,"b":20.6,"f":0,"l":10,"h":30},{"p":5,"a":204,"b":15.3,"f":0,"l":5,"h":25},{"p":5,"a":209,"b":20.6,"f":0,"l":10,"h":31},{"p":5,"a":214,"b":3.4,"f":1},{"p":5,"a":214,"b":20.6,"f":0,"l":10,"h":31},{"p":5,"a":220,"b":17.4,"f":1},{"p":5,"a":220,"b":19.2,"f":0,"l":8,"h":30},{"p":5,"a":224,"b":14.2,"f":0,"l":2,"h":27},{"p":5,"a":229,"b":13.9,"f":1},{"p":5,"a":229,"b":20.1,"f":0,"l":9,"h":31},{"p":5,"a":234,"b":20.9,"f":0,"l":9,"h":35},{"p":5,"a":240,"b":10.6,"f":1},{"p":5,"a":240,"b":20.3,"f":0,"l":9,"h":31},{"p":5,"a":244,"b":20.3,"f":0,"l":9,"h":32},{"p":5,"a":250,"b":17.6,"f":0,"l":7,"h":29},{"p":5,"a":254,"b":22.8,"f":0,"l":11,"h":35},{"p":5,"a":260,"b":19.0,"f":0,"l":7,"h":31},{"p":5,"a":264,"b":23.9,"f":0,"l":12,"h":36},{"p":5,"a":270,"b":21.9,"f":0,"l":10,"h":34},{"p":5,"a":274,"b":11.7,"f":1},{"p":5,"a":274,"b":19.2,"f":0,"l":7,"h":31},{"p":5,"a":279,"b":21.2,"f":0,"l":9,"h":34},{"p":5,"a":285,"b":23.9,"f":0,"l":12,"h":35},{"p":5,"a":290,"b":19.5,"f":0,"l":8,"h":31},{"p":5,"a":294,"b":18.7,"f":0,"l":6,"h":31},{"p":5,"a":299,"b":18.7,"f":0,"l":6,"h":31},{"p":5,"a":304,"b":14.9,"f":1},{"p":5,"a":304,"b":22.8,"f":0,"l":11,"h":35},{"p":5,"a":309,"b":22.8,"f":0,"l":11,"h":35},{"p":5,"a":314,"b":21.2,"f":0,"l":9,"h":33},{"p":5,"a":319,"b":22.3,"f":0,"l":10,"h":35},{"p":5,"a":325,"b":20.9,"f":0,"l":9,"h":33},{"p":5,"a":330,"b":23.5,"f":0,"l":12,"h":35},{"p":5,"a":335,"b":20.1,"f":0,"l":8,"h":33},{"p":5,"a":340,"b":23.8,"f":0,"l":11,"h":36},{"p":5,"a":345,"b":20.9,"f":1},{"p":5,"a":345,"b":25.5,"f":0,"l":12.3,"h":38.6},{"p":5,"a":350,"b":24.4,"f":0,"l":12,"h":37},{"p":5,"a":355,"b":18.9,"f":0,"l":6,"h":31},{"p":5,"a":360,"b":22.5,"f":0,"l":10,"h":36},{"p":5,"a":364,"b":27.8,"f":0,"l":15,"h":37},{"p":5,"a":370,"b":26.2,"f":0,"l":13,"h":37},{"p":5,"a":375,"b":22.5,"f":0,"l":9,"h":36},{"p":5,"a":380,"b":23.5,"f":0,"l":10,"h":37},{"p":5,"a":384,"b":12.3,"f":0,"l":2,"h":23},{"p":5,"a":390,"b":23.9,"f":0,"l":0,"h":40},{"p":5,"a":395,"b":20.1,"f":0,"l":8,"h":31},{"p":5,"a":400,"b":23.5,"f":0,"l":11,"h":36},{"p":5,"a":404,"b":24.1,"f":0,"l":12,"h":36},{"p":5,"a":409,"b":20.1,"f":0,"l":9,"h":31},{"p":5,"a":414,"b":16.0,"f":0,"l":5,"h":27},{"p":5,"a":419,"b":19.0,"f":0,"l":8,"h":30},{"p":5,"a":424,"b":28.7,"f":0,"l":15,"h":39},{"p":5,"a":430,"b":21.2,"f":0,"l":6,"h":36},{"p":5,"a":435,"b":31.1,"f":0,"l":18,"h":40},{"p":5,"a":440,"b":26.6,"f":0,"l":15,"h":37},{"p":5,"a":444,"b":25.7,"f":0,"l":13,"h":38},{"p":5,"a":449,"b":25.9,"f":0,"l":11,"h":40},{"p":5,"a":454,"b":17.4,"f":0,"l":2,"h":32},{"p":5,"a":460,"b":26.6,"f":0,"l":15,"h":38},{"p":5,"a":464,"b":26.0,"f":0,"l":13,"h":38},{"p":5,"a":470,"b":31.6,"f":0,"l":18,"h":43},{"p":5,"a":475,"b":17.4,"f":0,"l":2,"h":33},{"p":5,"a":480,"b":23.5,"f":0,"l":11,"h":35},{"p":5,"a":485,"b":20.5,"f":0,"l":8,"h":33},{"p":5,"a":489,"b":30.3,"f":0,"l":16,"h":45},{"p":5,"a":494,"b":24.6,"f":0,"l":12,"h":36},{"p":5,"a":499,"b":28.9,"f":0,"l":15,"h":41},{"p":5,"a":504,"b":15.5,"f":0,"l":4,"h":27},{"p":5,"a":509,"b":24.1,"f":0,"l":2,"h":46},{"p":5,"a":514,"b":26.6,"f":0,"l":12,"h":41},{"p":5,"a":519,"b":25.5,"f":0,"l":10,"h":41},{"p":5,"a":524,"b":26.6,"f":0,"l":8,"h":45},{"p":5,"a":529,"b":26.6,"f":0,"l":5,"h":48},{"p":5,"a":534,"b":19.6,"f":0,"l":8,"h":31},{"p":5,"a":539,"b":31.4,"f":0,"l":19,"h":41},{"p":5,"a":544,"b":28.7,"f":0,"l":16,"h":41},{"p":5,"a":549,"b":29.5,"f":0,"l":17,"h":45},{"p":5,"a":554,"b":15.8,"f":0,"l":0,"h":38},{"p":5,"a":559,"b":20.0,"f":1},{"p":5,"a":559,"b":38.3,"f":0,"l":20,"h":54},{"p":5,"a":564,"b":26.0,"f":0},{"p":5,"a":569,"b":16.9,"f":0,"l":12,"h":20},{"p":5,"a":574,"b":30.5,"f":0,"l":13,"h":48},{"p":5,"a":579,"b":28.9,"f":0,"l":18,"h":36},{"p":5,"a":584,"b":29.5,"f":0,"l":11,"h":48},{"p":5,"a":589,"b":33.5,"f":0,"l":28,"h":38},{"p":5,"a":594,"b":40.2,"f":0},{"p":5,"a":599,"b":2.6,"f":0,"l":0,"h":10},{"p":5,"a":605,"b":24.3,"f":0},
{"p":6,"a":5,"b":0.7,"f":1},{"p":6,"a":10,"b":0.7,"f":0},{"p":6,"a":14,"b":1.1,"f":1},{"p":6,"a":20,"b":1.6,"f":0},{"p":6,"a":25,"b":1.6,"f":0},{"p":6,"a":25,"b":3.5,"f":1},{"p":6,"a":30,"b":4.2,"f":0,"l":1,"h":8},{"p":6,"a":35,"b":1.9,"f":1},{"p":6,"a":35,"b":3.7,"f":0},{"p":6,"a":40,"b":5.6,"f":1,"l":1,"h":11},{"p":6,"a":40,"b":3.2,"f":0},{"p":6,"a":45,"b":3.7,"f":0,"l":0,"h":9},{"p":6,"a":49,"b":7.9,"f":1},{"p":6,"a":50,"b":3.2,"f":0},{"p":6,"a":55,"b":5.8,"f":0,"l":0,"h":12},{"p":6,"a":55,"b":7.4,"f":1},{"p":6,"a":59,"b":8.1,"f":1},{"p":6,"a":60,"b":2.9,"f":0,"l":0,"h":9},{"p":6,"a":64,"b":11.3,"f":1,"l":1,"h":20},{"p":6,"a":64,"b":5.3,"f":0},{"p":6,"a":69,"b":11.0,"f":1},{"p":6,"a":75,"b":14.4,"f":1,"l":6,"h":22},{"p":6,"a":75,"b":6.8,"f":0,"l":0,"h":16},{"p":6,"a":80,"b":10.5,"f":1},{"p":6,"a":85,"b":8.9,"f":0,"l":1,"h":18},{"p":6,"a":85,"b":5.6,"f":1},{"p":6,"a":90,"b":8.9,"f":1},{"p":6,"a":94,"b":9.0,"f":1,"l":2,"h":17},{"p":6,"a":95,"b":12.1,"f":0,"l":3,"h":22},{"p":6,"a":99,"b":9.1,"f":1},{"p":6,"a":100,"b":14.0,"f":0,"l":5,"h":24},{"p":6,"a":104,"b":9.3,"f":1},{"p":6,"a":104,"b":14.7,"f":0,"l":5,"h":24},{"p":6,"a":110,"b":9.7,"f":0,"l":1,"h":19},{"p":6,"a":110,"b":12.6,"f":1},{"p":6,"a":115,"b":13.1,"f":1,"l":4,"h":22},{"p":6,"a":120,"b":9.1,"f":1},{"p":6,"a":120,"b":11.8,"f":0,"l":3,"h":21},{"p":6,"a":125,"b":13.7,"f":1,"l":4,"h":23},{"p":6,"a":129,"b":13.5,"f":0,"l":4,"h":23},{"p":6,"a":129,"b":11.0,"f":1},{"p":6,"a":135,"b":14.4,"f":0,"l":4,"h":25},{"p":6,"a":135,"b":10.0,"f":1},{"p":6,"a":140,"b":12.1,"f":1,"l":2,"h":22},{"p":6,"a":145,"b":14.4,"f":1,"l":4,"h":24},{"p":6,"a":150,"b":12.9,"f":0,"l":3,"h":23},{"p":6,"a":150,"b":16.1,"f":1},{"p":6,"a":155,"b":9.5,"f":1},{"p":6,"a":160,"b":9.8,"f":0,"l":0,"h":20},{"p":6,"a":165,"b":13.1,"f":1,"l":3,"h":23},{"p":6,"a":170,"b":12.6,"f":1},{"p":6,"a":170,"b":16.8,"f":0,"l":6,"h":27},{"p":6,"a":174,"b":19.1,"f":0,"l":8,"h":29},{"p":6,"a":174,"b":11.8,"f":1},{"p":6,"a":180,"b":11.6,"f":1},{"p":6,"a":180,"b":17.7,"f":0,"l":7,"h":28},{"p":6,"a":185,"b":14.2,"f":0,"l":4,"h":25},{"p":6,"a":185,"b":15.8,"f":1},{"p":6,"a":189,"b":16.8,"f":1,"l":6,"h":27},{"p":6,"a":194,"b":18.2,"f":0,"l":7,"h":29},{"p":6,"a":194,"b":11.0,"f":1},{"p":6,"a":200,"b":20.0,"f":1},{"p":6,"a":200,"b":14.9,"f":0,"l":4,"h":26},{"p":6,"a":204,"b":6.0,"f":1},{"p":6,"a":204,"b":14.2,"f":0,"l":3,"h":25},{"p":6,"a":209,"b":9.3,"f":1},{"p":6,"a":209,"b":14.5,"f":0,"l":0,"h":29},{"p":6,"a":214,"b":14.9,"f":0,"l":4,"h":27},{"p":6,"a":219,"b":21.3,"f":0,"l":10,"h":31},{"p":6,"a":219,"b":14.9,"f":1},{"p":6,"a":224,"b":16.1,"f":0,"l":5,"h":28},{"p":6,"a":229,"b":16.5,"f":0,"l":5,"h":28},{"p":6,"a":235,"b":18.7,"f":0,"l":6,"h":34},{"p":6,"a":240,"b":19.8,"f":0,"l":8,"h":31},{"p":6,"a":240,"b":6.3,"f":1},{"p":6,"a":244,"b":15.0,"f":0,"l":3,"h":28},{"p":6,"a":249,"b":19.7,"f":0,"l":8,"h":31},{"p":6,"a":249,"b":10.5,"f":1},{"p":6,"a":254,"b":14.0,"f":0,"l":3,"h":26},{"p":6,"a":259,"b":17.0,"f":0,"l":5,"h":30},{"p":6,"a":259,"b":8.2,"f":1},{"p":6,"a":264,"b":7.9,"f":1},{"p":6,"a":264,"b":20.2,"f":0,"l":8,"h":32},{"p":6,"a":270,"b":19.1,"f":0,"l":7,"h":31},{"p":6,"a":270,"b":12.8,"f":1},{"p":6,"a":274,"b":20.0,"f":0,"l":8,"h":32},{"p":6,"a":279,"b":12.8,"f":1},{"p":6,"a":279,"b":16.1,"f":0,"l":5,"h":28},{"p":6,"a":285,"b":20.7,"f":0,"l":8,"h":33},{"p":6,"a":290,"b":15.2,"f":0,"l":3,"h":28},{"p":6,"a":294,"b":19.7,"f":0,"l":7,"h":31},{"p":6,"a":299,"b":21.8,"f":0,"l":9,"h":33},{"p":6,"a":304,"b":17.9,"f":0,"l":6,"h":30},{"p":6,"a":309,"b":18.1,"f":0,"l":6,"h":31},{"p":6,"a":314,"b":21.9,"f":0,"l":10,"h":33},{"p":6,"a":319,"b":17.6,"f":0,"l":5,"h":31},{"p":6,"a":325,"b":28.4,"f":0,"l":15,"h":42},{"p":6,"a":330,"b":22.1,"f":0,"l":9,"h":34},{"p":6,"a":335,"b":22.1,"f":0,"l":10,"h":33},{"p":6,"a":340,"b":19.5,"f":0,"l":6,"h":32},{"p":6,"a":345,"b":20.8,"f":0,"l":7,"h":34},{"p":6,"a":350,"b":21.6,"f":0,"l":9,"h":34},{"p":6,"a":355,"b":14.7,"f":0,"l":4,"h":26},{"p":6,"a":360,"b":25.8,"f":0,"l":13,"h":37},{"p":6,"a":364,"b":16.8,"f":0,"l":0,"h":32},{"p":6,"a":370,"b":22.4,"f":1},{"p":6,"a":370,"b":18.6,"f":0,"l":6,"h":31},{"p":6,"a":375,"b":15.5,"f":0,"l":5,"h":27},{"p":6,"a":380,"b":16.3,"f":0,"l":4,"h":29},{"p":6,"a":384,"b":17.7,"f":0,"l":5,"h":30},{"p":6,"a":390,"b":23.4,"f":0,"l":11,"h":36},{"p":6,"a":395,"b":21.6,"f":0,"l":9,"h":36},{"p":6,"a":400,"b":24.2,"f":0,"l":12,"h":36},{"p":6,"a":404,"b":31.3,"f":0,"l":18,"h":40},{"p":6,"a":409,"b":19.2,"f":0,"l":6,"h":33},{"p":6,"a":414,"b":23.4,"f":0,"l":12,"h":36},{"p":6,"a":419,"b":15.6,"f":0,"l":4,"h":29},{"p":6,"a":424,"b":22.1,"f":0,"l":9,"h":34},{"p":6,"a":430,"b":27.9,"f":0,"l":14,"h":42},{"p":6,"a":435,"b":26.6,"f":0,"l":13,"h":39},{"p":6,"a":440,"b":17.4,"f":0,"l":0,"h":36},{"p":6,"a":444,"b":25.4,"f":0,"l":12,"h":37},{"p":6,"a":449,"b":32.3,"f":0,"l":18,"h":48},{"p":6,"a":454,"b":30.2,"f":0,"l":14,"h":47},{"p":6,"a":460,"b":22.4,"f":0,"l":10,"h":35},{"p":6,"a":464,"b":26.0,"f":0,"l":13,"h":38},{"p":6,"a":470,"b":25.8,"f":0,"l":14,"h":38},{"p":6,"a":475,"b":22.9,"f":0,"l":10,"h":35},{"p":6,"a":480,"b":14.0,"f":0,"l":3,"h":26},{"p":6,"a":485,"b":14.4,"f":0,"l":0,"h":29},{"p":6,"a":489,"b":20.5,"f":0,"l":8,"h":33},{"p":6,"a":494,"b":21.0,"f":0,"l":2,"h":37},{"p":6,"a":499,"b":27.3,"f":0,"l":15,"h":40},{"p":6,"a":504,"b":14.7,"f":0},{"p":6,"a":509,"b":12.3,"f":0,"l":8,"h":18},{"p":6,"a":514,"b":24.4,"f":0,"l":17,"h":32},{"p":6,"a":519,"b":18.4,"f":0},{"p":6,"a":524,"b":25.6,"f":0},{"p":6,"a":529,"b":4.0,"f":0,"l":0,"h":22},{"p":6,"a":534,"b":22.3,"f":0},{"p":6,"a":539,"b":58.9,"f":0,"l":48,"h":70},{"p":6,"a":544,"b":28.7,"f":0},{"p":6,"a":549,"b":49.7,"f":0,"l":46,"h":53},{"p":6,"a":554,"b":23.4,"f":0,"l":15,"h":31},{"p":6,"a":559,"b":32.4,"f":0,"l":21,"h":43},{"p":6,"a":564,"b":34.4,"f":0},{"p":6,"a":569,"b":22.9,"f":0},{"p":6,"a":574,"b":33.6,"f":0,"l":31,"h":36},{"p":6,"a":579,"b":24.5,"f":0,"l":17,"h":30},{"p":6,"a":584,"b":23.1,"f":0,"l":17,"h":30},{"p":6,"a":589,"b":42.6,"f":0},{"p":6,"a":594,"b":37.9,"f":0},{"p":6,"a":599,"b":22.3,"f":0,"l":9,"h":35},{"p":6,"a":605,"b":27.7,"f":0},{"p":6,"a":605,"b":5.3,"f":1}
]
},
"vconcat":[
{"width":932,"height":218,"data":{"name":"pts"},
 "encoding":{"x":{"field":"a","type":"quantitative","scale":{"domain":[-10,650],"nice":false,"zero":false},"axis":{"values":[0,100,200,300,400,500,600],"labels":false,"tickSize":-4,"tickWidth":1,"title":null}},
  "y":{"field":"b","type":"quantitative","scale":{"domain":[0,70],"nice":false},"axis":{"orient":"left","values":[0,10,20,30,40,50,60,70],"tickSize":-10,"tickWidth":1.5,"labelFontSize":28,"labelPadding":22,"title":null}}},
 "layer":[
  {"transform":[{"filter":"datum.p==1 && isValid(datum.l)"}],"mark":{"type":"rule","color":"#9a9a9a","strokeWidth":1},"encoding":{"y":{"field":"l","type":"quantitative","scale":{"domain":[0,70],"nice":false},"axis":{"orient":"left","values":[0,10,20,30,40,50,60,70],"tickSize":-10,"tickWidth":1.5,"labelFontSize":28,"labelPadding":22,"title":null}},"y2":{"field":"h"}}},
  {"data":{"name":"ln"},"transform":[{"filter":"datum.p==1 && datum.k=='d'"}],"mark":{"type":"line","color":"black","strokeWidth":1.5,"strokeDash":[34,13],"interpolate":"monotone"}},
  {"data":{"name":"ln"},"transform":[{"filter":"datum.p==1 && datum.k=='f'"}],"mark":{"type":"line","color":"black","strokeWidth":1.5,"interpolate":"monotone"}},
  {"transform":[{"filter":"datum.p==1 && datum.f==0"}],"mark":{"type":"point","shape":"square","filled":true,"fill":"white","stroke":"black","strokeWidth":1.3,"size":64,"opacity":1}},
  {"transform":[{"filter":"datum.p==1 && datum.f==1"}],"mark":{"type":"point","shape":"square","filled":true,"fill":"black","stroke":"black","strokeWidth":0.5,"size":80,"opacity":1}},
  {"data":{"name":"lab"},"transform":[{"filter":"datum.p==1"}],"mark":{"type":"text","align":"left","baseline":"alphabetic","fontSize":35,"color":"black"},"encoding":{"text":{"field":"t"}}}
 ]},
{"width":932,"height":218,"data":{"name":"pts"},
 "encoding":{"x":{"field":"a","type":"quantitative","scale":{"domain":[-10,650],"nice":false,"zero":false},"axis":{"values":[0,100,200,300,400,500,600],"labels":false,"tickSize":-4,"tickWidth":1,"title":null}},
  "y":{"field":"b","type":"quantitative","scale":{"domain":[0,70],"nice":false},"axis":{"orient":"right","values":[0,10,20,30,40,50,60,70],"tickSize":-10,"tickWidth":1.5,"labelFontSize":28,"labelPadding":24,"title":null}}},
 "layer":[
  {"transform":[{"filter":"datum.p==2 && isValid(datum.l)"}],"mark":{"type":"rule","color":"#9a9a9a","strokeWidth":1},"encoding":{"y":{"field":"l","type":"quantitative","scale":{"domain":[0,70],"nice":false},"axis":{"orient":"right","values":[0,10,20,30,40,50,60,70],"tickSize":-10,"tickWidth":1.5,"labelFontSize":28,"labelPadding":24,"title":null}},"y2":{"field":"h"}}},
  {"data":{"name":"ln"},"transform":[{"filter":"datum.p==2 && datum.k=='d'"}],"mark":{"type":"line","color":"black","strokeWidth":1.5,"strokeDash":[34,13],"interpolate":"monotone"}},
  {"data":{"name":"ln"},"transform":[{"filter":"datum.p==2 && datum.k=='f'"}],"mark":{"type":"line","color":"black","strokeWidth":1.5,"interpolate":"monotone"}},
  {"transform":[{"filter":"datum.p==2 && datum.f==0"}],"mark":{"type":"point","shape":"square","filled":true,"fill":"white","stroke":"black","strokeWidth":1.3,"size":64,"opacity":1}},
  {"transform":[{"filter":"datum.p==2 && datum.f==1"}],"mark":{"type":"point","shape":"square","filled":true,"fill":"black","stroke":"black","strokeWidth":0.5,"size":80,"opacity":1}},
  {"data":{"name":"lab"},"transform":[{"filter":"datum.p==2"}],"mark":{"type":"text","align":"left","baseline":"alphabetic","fontSize":35,"color":"black"},"encoding":{"text":{"field":"t"}}}
 ]},
{"width":932,"height":218,"data":{"name":"pts"},
 "encoding":{"x":{"field":"a","type":"quantitative","scale":{"domain":[-10,650],"nice":false,"zero":false},"axis":{"values":[0,100,200,300,400,500,600],"labels":false,"tickSize":-4,"tickWidth":1,"title":null}},
  "y":{"field":"b","type":"quantitative","scale":{"domain":[0,70],"nice":false},"axis":{"orient":"left","values":[0,10,20,30,40,50,60,70],"tickSize":-10,"tickWidth":1.5,"labelFontSize":28,"labelPadding":22,"title":"Live Biomass (Kg C m⁻²)","titleFontSize":35,"titleY":222,"titlePadding":12}}},
 "layer":[
  {"transform":[{"filter":"datum.p==3 && isValid(datum.l)"}],"mark":{"type":"rule","color":"#9a9a9a","strokeWidth":1},"encoding":{"y":{"field":"l","type":"quantitative","scale":{"domain":[0,70],"nice":false},"axis":{"orient":"left","values":[0,10,20,30,40,50,60,70],"tickSize":-10,"tickWidth":1.5,"labelFontSize":28,"labelPadding":22,"title":"Live Biomass (Kg C m⁻²)","titleFontSize":35,"titleY":222,"titlePadding":12}},"y2":{"field":"h"}}},
  {"data":{"name":"ln"},"transform":[{"filter":"datum.p==3 && datum.k=='d'"}],"mark":{"type":"line","color":"black","strokeWidth":1.5,"strokeDash":[34,13],"interpolate":"monotone"}},
  {"data":{"name":"ln"},"transform":[{"filter":"datum.p==3 && datum.k=='f'"}],"mark":{"type":"line","color":"black","strokeWidth":1.5,"interpolate":"monotone"}},
  {"transform":[{"filter":"datum.p==3 && datum.f==0"}],"mark":{"type":"point","shape":"square","filled":true,"fill":"white","stroke":"black","strokeWidth":1.3,"size":64,"opacity":1}},
  {"transform":[{"filter":"datum.p==3 && datum.f==1"}],"mark":{"type":"point","shape":"square","filled":true,"fill":"black","stroke":"black","strokeWidth":0.5,"size":80,"opacity":1}},
  {"data":{"name":"lab"},"transform":[{"filter":"datum.p==3"}],"mark":{"type":"text","align":"left","baseline":"alphabetic","fontSize":35,"color":"black"},"encoding":{"text":{"field":"t"}}}
 ]},
{"width":932,"height":218,"data":{"name":"pts"},
 "encoding":{"x":{"field":"a","type":"quantitative","scale":{"domain":[-10,650],"nice":false,"zero":false},"axis":{"values":[0,100,200,300,400,500,600],"labels":false,"tickSize":-4,"tickWidth":1,"title":null}},
  "y":{"field":"b","type":"quantitative","scale":{"domain":[0,70],"nice":false},"axis":{"orient":"right","values":[0,10,20,30,40,50,60,70],"tickSize":-10,"tickWidth":1.5,"labelFontSize":28,"labelPadding":24,"title":null}}},
 "layer":[
  {"transform":[{"filter":"datum.p==4 && isValid(datum.l)"}],"mark":{"type":"rule","color":"#9a9a9a","strokeWidth":1},"encoding":{"y":{"field":"l","type":"quantitative","scale":{"domain":[0,70],"nice":false},"axis":{"orient":"right","values":[0,10,20,30,40,50,60,70],"tickSize":-10,"tickWidth":1.5,"labelFontSize":28,"labelPadding":24,"title":null}},"y2":{"field":"h"}}},
  {"data":{"name":"ln"},"transform":[{"filter":"datum.p==4 && datum.k=='d'"}],"mark":{"type":"line","color":"black","strokeWidth":1.5,"strokeDash":[34,13],"interpolate":"monotone"}},
  {"data":{"name":"ln"},"transform":[{"filter":"datum.p==4 && datum.k=='f'"}],"mark":{"type":"line","color":"black","strokeWidth":1.5,"interpolate":"monotone"}},
  {"transform":[{"filter":"datum.p==4 && datum.f==0"}],"mark":{"type":"point","shape":"square","filled":true,"fill":"white","stroke":"black","strokeWidth":1.3,"size":64,"opacity":1}},
  {"transform":[{"filter":"datum.p==4 && datum.f==1"}],"mark":{"type":"point","shape":"square","filled":true,"fill":"black","stroke":"black","strokeWidth":0.5,"size":80,"opacity":1}},
  {"data":{"name":"lab"},"transform":[{"filter":"datum.p==4"}],"mark":{"type":"text","align":"left","baseline":"alphabetic","fontSize":35,"color":"black"},"encoding":{"text":{"field":"t"}}}
 ]},
{"width":932,"height":218,"data":{"name":"pts"},
 "encoding":{"x":{"field":"a","type":"quantitative","scale":{"domain":[-10,650],"nice":false,"zero":false},"axis":{"values":[0,100,200,300,400,500,600],"labels":false,"tickSize":-4,"tickWidth":1,"title":null}},
  "y":{"field":"b","type":"quantitative","scale":{"domain":[0,70],"nice":false},"axis":{"orient":"left","values":[0,10,20,30,40,50,60,70],"tickSize":-10,"tickWidth":1.5,"labelFontSize":28,"labelPadding":22,"title":null}}},
 "layer":[
  {"transform":[{"filter":"datum.p==5 && isValid(datum.l)"}],"mark":{"type":"rule","color":"#9a9a9a","strokeWidth":1},"encoding":{"y":{"field":"l","type":"quantitative","scale":{"domain":[0,70],"nice":false},"axis":{"orient":"left","values":[0,10,20,30,40,50,60,70],"tickSize":-10,"tickWidth":1.5,"labelFontSize":28,"labelPadding":22,"title":null}},"y2":{"field":"h"}}},
  {"data":{"name":"ln"},"transform":[{"filter":"datum.p==5 && datum.k=='d'"}],"mark":{"type":"line","color":"black","strokeWidth":1.5,"strokeDash":[34,13],"interpolate":"monotone"}},
  {"data":{"name":"ln"},"transform":[{"filter":"datum.p==5 && datum.k=='f'"}],"mark":{"type":"line","color":"black","strokeWidth":1.5,"interpolate":"monotone"}},
  {"transform":[{"filter":"datum.p==5 && datum.f==0"}],"mark":{"type":"point","shape":"square","filled":true,"fill":"white","stroke":"black","strokeWidth":1.3,"size":64,"opacity":1}},
  {"transform":[{"filter":"datum.p==5 && datum.f==1"}],"mark":{"type":"point","shape":"square","filled":true,"fill":"black","stroke":"black","strokeWidth":0.5,"size":80,"opacity":1}},
  {"data":{"name":"lab"},"transform":[{"filter":"datum.p==5"}],"mark":{"type":"text","align":"left","baseline":"alphabetic","fontSize":35,"color":"black"},"encoding":{"text":{"field":"t"}}}
 ]},
{"width":932,"height":222,"data":{"name":"pts"},
 "encoding":{"x":{"field":"a","type":"quantitative","scale":{"domain":[-10,650],"nice":false,"zero":false},"axis":{"values":[0,100,200,300,400,500,600],"tickSize":9,"tickWidth":1.5,"labelFontSize":28,"labelPadding":20,"title":"Stand Age (years)","titleFontSize":32,"titlePadding":2}},
  "y":{"field":"b","type":"quantitative","scale":{"domain":[0,70],"nice":false},"axis":{"orient":"right","values":[0,10,20,30,40,50,60,70],"tickSize":-10,"tickWidth":1.5,"labelFontSize":28,"labelPadding":24,"title":null}}},
 "layer":[
  {"transform":[{"filter":"datum.p==6 && isValid(datum.l)"}],"mark":{"type":"rule","color":"#9a9a9a","strokeWidth":1},"encoding":{"y":{"field":"l","type":"quantitative","scale":{"domain":[0,70],"nice":false},"axis":{"orient":"right","values":[0,10,20,30,40,50,60,70],"tickSize":-10,"tickWidth":1.5,"labelFontSize":28,"labelPadding":24,"title":null}},"y2":{"field":"h"}}},
  {"data":{"name":"ln"},"transform":[{"filter":"datum.p==6 && datum.k=='d'"}],"mark":{"type":"line","color":"black","strokeWidth":1.5,"strokeDash":[34,13],"interpolate":"monotone"}},
  {"data":{"name":"ln"},"transform":[{"filter":"datum.p==6 && datum.k=='f'"}],"mark":{"type":"line","color":"black","strokeWidth":1.5,"interpolate":"monotone"}},
  {"transform":[{"filter":"datum.p==6 && datum.f==0"}],"mark":{"type":"point","shape":"square","filled":true,"fill":"white","stroke":"black","strokeWidth":1.3,"size":64,"opacity":1}},
  {"transform":[{"filter":"datum.p==6 && datum.f==1"}],"mark":{"type":"point","shape":"square","filled":true,"fill":"black","stroke":"black","strokeWidth":0.5,"size":80,"opacity":1}},
  {"data":{"name":"lab"},"transform":[{"filter":"datum.p==6"}],"mark":{"type":"text","align":"left","baseline":"alphabetic","fontSize":35,"color":"black"},"encoding":{"text":{"field":"t"}}}
 ]}
]
}
